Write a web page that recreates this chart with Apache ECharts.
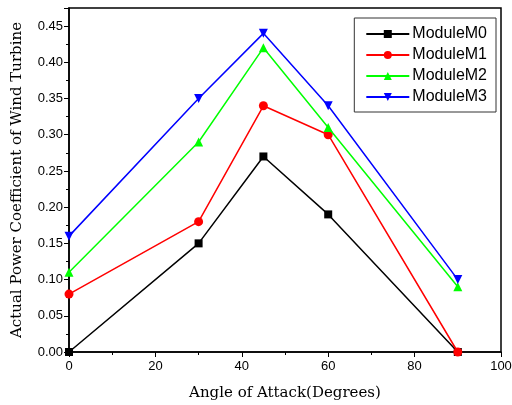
<!DOCTYPE html>
<html>
<head>
<meta charset="utf-8">
<script src="https://cdn.jsdelivr.net/npm/echarts@6/dist/echarts.min.js"></script>
<style>
  html, body { margin: 0; padding: 0; background: #fff; }
  #chart { width: 512px; height: 405px; }
</style>
</head>
<body>
<div id="chart"></div>
<script>
// angles (degrees)
const angles = [0, 30, 45, 60, 90]
const moduleM0 = [0.00, 0.15, 0.27, 0.19, 0.00]
const moduleM1 = [0.08, 0.18, 0.34, 0.30, 0.00]
const moduleM2 = [0.11, 0.29, 0.42, 0.31, 0.09]
const moduleM3 = [0.16, 0.35, 0.44, 0.34, 0.10]
const seriesNames = ['ModuleM0', 'ModuleM1', 'ModuleM2', 'ModuleM3']

const COLORS = ['#000000', '#ff0000', '#00ff00', '#0000ff']
const SYMBOLS = ['rect', 'circle', 'triangle', 'path://M0,0 L10,0 L5,9 Z']

const chart = echarts.init(document.getElementById('chart'))

const pair = vals => angles.map((a, i) => [a, vals[i]])
const allValues = [moduleM0, moduleM1, moduleM2, moduleM3]

const option = {
  animation: false,
  backgroundColor: '#fff',
  grid: {
    left: 69,
    right: 11,
    top: 8,
    bottom: 53,
    outerBoundsMode: 'none',
    containLabel: false,
    show: true,
    borderColor: '#000',
    borderWidth: 1.5,
  },
  legend: {
    orient: 'vertical',
    right: 16,
    top: 18,
    itemWidth: 43,
    itemHeight: 10,
    itemGap: 5,
    padding: [8, 9, 7, 11],
    borderColor: '#333',
    borderWidth: 1,
    textStyle: {
      color: '#000',
      fontFamily: 'Liberation Sans, Arial, sans-serif',
      fontSize: 16,
      padding: [0, 0, 0, -2],
    },
    data: seriesNames,
  },
  xAxis: {
    type: 'value',
    min: 0,
    max: 100,
    interval: 20,
    name: 'Angle of Attack(Degrees)',
    nameLocation: 'middle',
    nameGap: 34,
    nameTextStyle: {
      color: '#000',
      fontFamily: 'DejaVu Serif, serif',
      fontSize: 15,
    },
    axisLine: { lineStyle: { color: '#000', width: 1.5 } },
    axisTick: { inside: false, length: 5, lineStyle: { color: '#000' } },
    minorTick: { show: true, splitNumber: 2, length: 3, lineStyle: { color: '#000' } },
    axisLabel: {
      color: '#000',
      fontFamily: 'Liberation Sans, Arial, sans-serif',
      fontSize: 13,
      margin: 8,
    },
    splitLine: { show: false },
  },
  yAxis: {
    type: 'value',
    min: 0,
    max: 0.475,
    interval: 0.05,
    name: 'Actual Power Coefficient of Wind Turbine',
    nameLocation: 'middle',
    nameGap: 44,
    nameTextStyle: {
      color: '#000',
      fontFamily: 'DejaVu Serif, serif',
      fontSize: 15,
    },
    axisLine: { lineStyle: { color: '#000', width: 1.5 } },
    axisTick: { inside: false, length: 5, lineStyle: { color: '#000' } },
    minorTick: { show: true, splitNumber: 2, length: 3, lineStyle: { color: '#000' } },
    axisLabel: {
      color: '#000',
      fontFamily: 'Liberation Sans, Arial, sans-serif',
      fontSize: 13,
      margin: 6,
      showMaxLabel: false,
      formatter: v => v.toFixed(2),
    },
    splitLine: { show: false },
  },
  series: seriesNames.map((name, i) => ({
    name: name,
    type: 'line',
    data: pair(allValues[i]),
    symbol: SYMBOLS[i],
    symbolSize: i === 0 ? 8 : 9,
    showAllSymbol: true,
    clip: false,
    lineStyle: { color: COLORS[i], width: 1.5 },
    itemStyle: { color: COLORS[i] },
    z: 2 + i,
  })),
}

chart.setOption(option)
</script>
</body>
</html>
